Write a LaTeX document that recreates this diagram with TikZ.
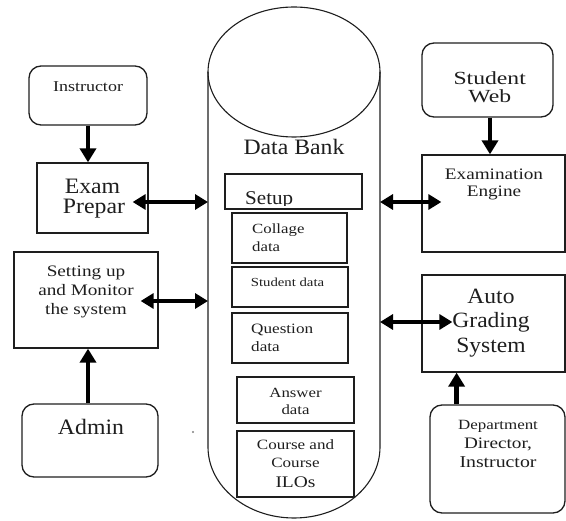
\documentclass[tikz,border=0pt]{standalone}
\usepackage{fontspec}
\setmainfont{Liberation Serif}[FakeStretch=1.08]
\newfontfamily\smfont{Liberation Serif}[FakeStretch=1.2]
\newfontfamily\wdfont{Liberation Serif}[FakeStretch=1.28]
\usetikzlibrary{arrows.meta,fit,calc}
\definecolor{ink}{HTML}{1E1E1E}
\tikzset{
  box/.style={draw=ink, line width=1.3pt, inner sep=0pt, rectangle},
  rbox/.style={box, rounded corners=12pt},
  txt/.style={anchor=base, inner sep=0pt, text=ink},
  bigt/.style={txt, font=\fontsize{22}{24}\selectfont},
  smt/.style={txt, font=\smfont\fontsize{#1}{#1}\selectfont},
  arr/.style={draw=black, line width=4.5pt, -{Triangle[length=14pt,width=16pt]}},
  darr/.style={draw=black, line width=4.5pt, {Triangle[length=13pt,width=15pt]}-{Triangle[length=13pt,width=15pt]}},
  cyl/.style={draw=ink, line width=1.1pt}
}
\begin{document}
\begin{tikzpicture}[x=1pt,y=-1pt]
\useasboundingbox (0,0) rectangle (566,521);

% cylinder (Data Bank)
\draw[cyl] (294,72) ellipse [x radius=86pt, y radius=65pt];
\draw[cyl] (208,72) -- (208,447) arc[start angle=180, end angle=360, x radius=86pt, y radius=71pt] -- (380,72);
\coordinate (cylL) at (208,300);
\coordinate (cylR) at (380,300);
\node[bigt] (tdb) at (294,155) {Data Bank};

% left side
\node[rbox, fit={(29,66) (147,125)}] (instr) {};
\node[smt=15] (tinstr) at (88,92) {Instructor};

\node[box, fit={(37,163) (148,233)}] (ep) {};
\node[bigt] (tep1) at (92.5,194) {Exam};
\node[bigt] (tep2) at (94,214) {Prepar};

\node[box, fit={(14,252) (158,348)}] (set) {};
\node[smt=16] (tset1) at (86,277) {Setting up};
\node[smt=16] (tset2) at (86,296) {and Monitor};
\node[smt=16] (tset3) at (86,315) {the system};

\node[rbox, fit={(22,404) (158,477)}] (adm) {};
\node[bigt] (tadm) at (91,435) {Admin};

\node[circle, fill=gray, inner sep=0.8pt] (dot) at (193,432) {};

% data bank boxes
\node[box, fit={(225,174) (362,209)}] (setup) {};
\begin{scope}
\clip (225,174) rectangle (362,205.5);
\node[txt, anchor=base west, font=\fontsize{19.5}{20}\selectfont] (tsetup) at (245,205) {Setup};
\end{scope}

\node[box, fit={(232,213) (347,263)}] (col) {};
\node[smt=14, anchor=base west] (tcol1) at (252,234) {Collage};
\node[smt=14, anchor=base west] (tcol2) at (252,252) {data};

\node[box, fit={(232,267) (348,307)}] (stu) {};
\node[smt=12.3] (tstu) at (287.5,287) {Student data};

\node[box, fit={(232,313) (348,363)}] (que) {};
\node[smt=14.3, anchor=base west] (tque1) at (251,334) {Question};
\node[smt=14.3, anchor=base west] (tque2) at (251,352) {data};

\node[box, fit={(237,377) (354,423)}] (ans) {};
\node[smt=14] (tans1) at (295.5,398) {Answer};
\node[smt=14] (tans2) at (295.5,415) {data};

\node[box, fit={(237,431) (354,497)}] (crs) {};
\node[smt=14.2] (tcrs1) at (295.5,450) {Course and};
\node[smt=14.2] (tcrs2) at (295.5,468) {Course};
\node[smt=16.2] (tcrs3) at (295.5,488) {ILOs};

% right side
\node[rbox, fit={(422,43) (553,117)}] (sw) {};
\node[inner sep=0pt, text=ink, align=center, font=\wdfont\fontsize{18.5}{17.5}\selectfont] (tsw) at (489.7,87) {Student\\Web};

\node[box, fit={(422,155) (565,252)}] (ee) {};
\node[smt=16] (tee1) at (494,180) {Examination};
\node[smt=16] (tee2) at (494,197) {Engine};

\node[box, fit={(422,275) (565,372)}] (ag) {};
\node[txt, font=\fontsize{21.8}{24}\selectfont] (tag1) at (491,304) {Auto};
\node[txt, font=\fontsize{21.8}{24}\selectfont] (tag2) at (491,328) {Grading};
\node[txt, font=\fontsize{21.8}{24}\selectfont] (tag3) at (491,353) {System};

\node[rbox, fit={(430,405) (565,513)}] (dept) {};
\node[smt=14.1] (tdept1) at (498,430) {Department};
\node[smt=16] (tdept2) at (498,449) {Director,};
\node[smt=16.5] (tdept3) at (498,468) {Instructor};

% single arrows
\draw[arr] (instr.south) -- (instr.south |- ep.north);
\draw[arr] ([xshift=-2pt]adm.north) -- ([xshift=-2pt]adm.north |- set.south);
\draw[arr] ([xshift=2.5pt]sw.south) -- ([xshift=2.5pt]sw.south |- ee.north);
\coordinate (dtop) at ($(dept.north west)!0.2!(dept.north east)$);
\draw[arr] (dtop) -- (dtop |- ag.south);

% double arrows
\coordinate (d1) at ([xshift=-16pt,yshift=-4pt]ep.east);
\draw[darr] (d1) -- (d1 -| cylL);
\coordinate (d2) at ([xshift=-18pt,yshift=-1pt]set.east);
\draw[darr] (d2) -- (d2 -| cylL);
\coordinate (d3) at ([xshift=20pt,yshift=1.5pt]ee.west);
\draw[darr] (d3 -| cylR) -- (d3);
\coordinate (d4) at ([xshift=31pt,yshift=1.5pt]ag.west);
\draw[darr] (d4 -| cylR) -- (d4);
\end{tikzpicture}
\end{document}
